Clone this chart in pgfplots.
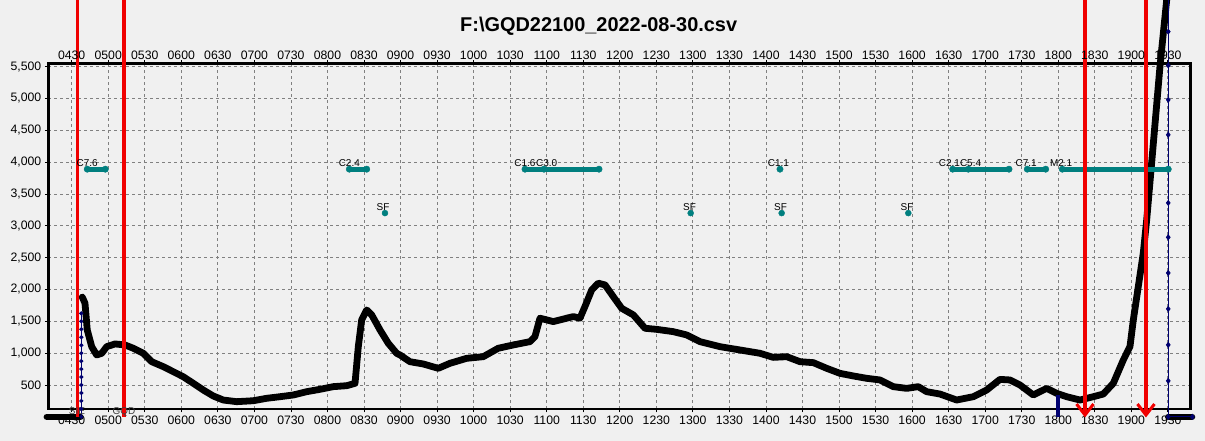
\documentclass[border=0pt]{standalone}
\usepackage{pgfplots}
\pgfplotsset{compat=1.18}
\usepackage{fontspec}
\setmainfont{Liberation Sans}
\usetikzlibrary{arrows.meta}
\definecolor{bgc}{HTML}{F0F0F0}
\definecolor{tealc}{HTML}{007F7F}
\definecolor{navyc}{HTML}{000070}
\definecolor{redc}{HTML}{F00000}
\definecolor{gridc}{HTML}{808080}

\pgfplotstableread{
x y
4.645 1880
4.682 1785
4.713 1365
4.774 1102
4.842 972
4.911 998
4.979 1102
5.093 1145
5.229 1129
5.343 1077
5.480 998
5.595 866
5.753 788
5.890 709
6.027 630
6.164 526
6.301 421
6.438 327
6.574 264
6.758 238
6.985 253
7.168 291
7.350 316
7.532 343
7.716 395
7.898 432
8.080 474
8.263 489
8.377 526
8.422 1102
8.468 1522
8.537 1679
8.605 1601
8.719 1365
8.832 1155
8.947 998
8.992 972
9.129 866
9.311 830
9.516 762
9.677 841
9.905 919
10.132 945
10.337 1077
10.543 1129
10.771 1181
10.839 1260
10.908 1549
11.090 1496
11.273 1549
11.364 1575
11.455 1549
11.524 1734
11.616 1994
11.706 2099
11.798 2072
11.911 1888
12.026 1705
12.185 1601
12.345 1391
12.505 1374
12.732 1338
12.915 1286
13.097 1181
13.371 1102
13.645 1050
13.918 998
14.100 934
14.284 945
14.466 866
14.648 851
14.831 762
15.013 683
15.195 642
15.378 605
15.560 579
15.742 474
15.926 447
16.084 474
16.199 395
16.381 358
16.610 264
16.837 316
17.020 421
17.202 588
17.339 579
17.476 500
17.658 343
17.841 447
17.978 369
18.115 316
18.297 264
18.479 316
18.616 358
18.753 526
18.890 893
18.981 1102
19.027 1522
19.095 2046
19.163 2570
19.210 3094
19.278 3990
19.392 5508
19.484 6553
19.520 7100
}\maindata

\begin{document}
\begin{tikzpicture}
\fill[bgc] (0,0) rectangle (1205bp,441bp);
\pgfplotsset{
  common/.style={
    at={(48.3bp,32bp)}, anchor=south west,
    scale only axis, width=1142.4bp, height=345.7bp,
    xmin=4.180, xmax=19.812, ymin=123, ymax=5553,
    xtick={4.5,5,...,19.5},
    xticklabels={0430,0500,0530,0600,0630,0700,0730,0800,0830,0900,0930,1000,1030,1100,1130,1200,1230,1300,1330,1400,1430,1500,1530,1600,1630,1700,1730,1800,1830,1900,1930},
    ticklabel style={font=\fontsize{12.3}{14}\selectfont, text=black},
    /pgf/number format/assume math mode=true,
  }
}
\begin{axis}[common,
  clip=false,
  ytick={500,1000,...,5500},
  yticklabel style={/pgf/number format/1000 sep={,}},
  xtick pos=both, ytick pos=left,
  xticklabel pos=lower,
  tick align=outside,
  major tick length=3.5bp,
  tick style={black, line width=0.8bp},
  axis line style={black, line width=2.5bp},
  grid=major,
  major grid style={gridc, line width=0.8bp, dash pattern=on 3bp off 3bp},
  axis background/.style={fill=bgc},
]
% flat zero segments (black)
\addplot[black, line width=6.5bp, line cap=round] coordinates {(4.16,0) (4.62,0)};
\addplot[black, line width=6.5bp, line cap=round] coordinates {(19.505,0) (19.83,0)};
% main curve
\addplot[black, line width=6.8bp, line join=round, line cap=round] table[x=x,y=y] {\maindata};
% navy raw series (vertical jumps)
\addplot[navyc, line width=0.9bp, mark=*, mark size=1.6bp] coordinates {
(4.632,0) (4.632,125) (4.632,250) (4.632,375) (4.632,500) (4.632,625) (4.632,750) (4.632,875) (4.632,1000) (4.632,1125) (4.632,1250) (4.632,1375) (4.632,1500) (4.632,1625)};
\addplot[navyc, line width=0.9bp, mark=diamond*, mark size=2.4bp] coordinates {
(19.505,7150) (19.505,6600) (19.505,6050) (19.505,5520) (19.505,4980) (19.505,4430) (19.505,3900) (19.505,3360) (19.505,2820) (19.505,2260) (19.505,1695) (19.505,1130) (19.505,565) (19.505,0) (19.835,0)};
\addplot[navyc, line width=4bp] coordinates {(18.0,340) (18.0,0)};
% event bars
\pgfplotsset{evbar/.style={tealc, line width=5bp, line cap=round, mark=*, mark size=3.2bp, mark options={line width=0.4bp}}}
\addplot[evbar] coordinates {(4.713,3890) (4.960,3890)};
\addplot[evbar] coordinates {(8.299,3890) (8.537,3890)};
\addplot[evbar] coordinates {(10.703,3890) (10.963,3890) (11.716,3890)};
\addplot[evbar, only marks] coordinates {(14.192,3890)};
\addplot[evbar] coordinates {(16.555,3890) (16.769,3890) (17.326,3890)};
\addplot[evbar] coordinates {(17.576,3890) (17.828,3890)};
\addplot[evbar] coordinates {(18.055,3890) (19.505,3890)};
\addplot[tealc, only marks, mark=*, mark size=3bp, mark options={line width=0.4bp}] coordinates {(8.787,3200) (12.970,3200) (14.215,3200) (15.948,3200)};
% red markers
\addplot[redc, line width=3.2bp] coordinates {(4.582,0) (4.582,7600)};
\addplot[redc, line width=3.2bp] coordinates {(5.216,0) (5.216,7600)};
\addplot[redc, line width=3.2bp, -{Straight Barb[length=11bp, width=17bp, line width=3bp]}] coordinates {(18.366,7600) (18.366,-10)};
\addplot[redc, line width=3.2bp, -{Straight Barb[length=11bp, width=17bp, line width=3bp]}] coordinates {(19.200,7600) (19.200,-10)};
% labels
\begin{scope}[every node/.style={font=\fontsize{10}{12}\selectfont, text=black, anchor=base, inner sep=0pt}]
\node at (axis cs:4.713,3930) {C7.6};
\node at (axis cs:8.299,3930) {C2.4};
\node at (axis cs:10.703,3930) {C1.6};
\node at (axis cs:11.0,3930) {C3.0};
\node at (axis cs:14.170,3930) {C1.1};
\node at (axis cs:16.51,3930) {C2.1};
\node at (axis cs:16.80,3930) {C5.4};
\node at (axis cs:17.56,3930) {C7.1};
\node at (axis cs:18.04,3930) {M2.1};
\node at (axis cs:8.76,3240) {SF};
\node at (axis cs:12.955,3240) {SF};
\node at (axis cs:14.20,3240) {SF};
\node at (axis cs:15.93,3240) {SF};
\node[text=black!75] at (axis cs:4.572,35) {SIE};
\node[text=black!75] at (axis cs:5.216,35) {GQD};
\end{scope}
\end{axis}
\begin{axis}[common,
  xtick pos=upper, xticklabel pos=upper,
  ytick=\empty,
  axis line style={draw=none},
  major tick length=0pt,
]
\end{axis}
\node[font=\bfseries\fontsize{20}{24}\selectfont] at (598.7bp,415.2bp) {F:\textbackslash GQD22100\_2022-08-30.csv};
\pgfresetboundingbox
\useasboundingbox (0,0) rectangle (1205bp,441bp);
\end{tikzpicture}
\end{document}
